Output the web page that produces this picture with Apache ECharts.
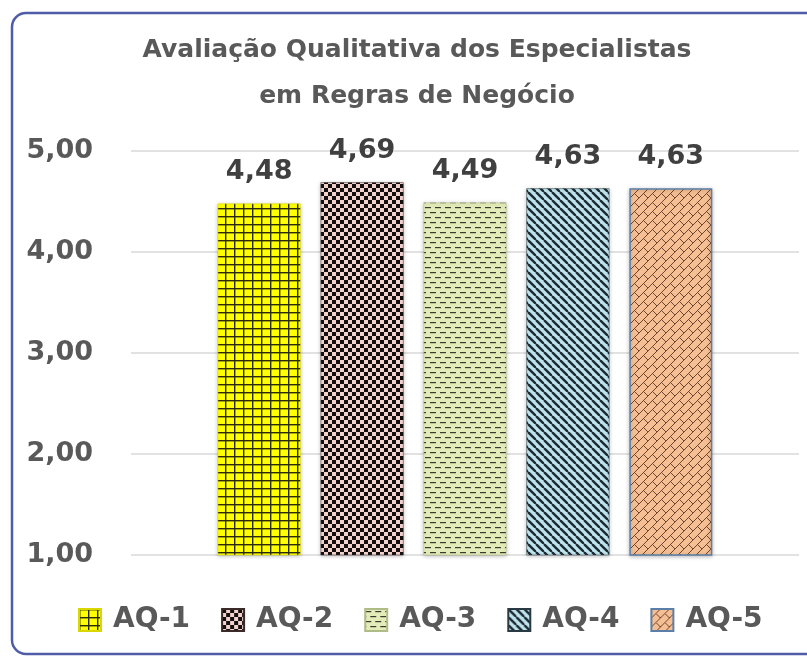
<!DOCTYPE html>
<html>
<head>
<meta charset="utf-8">
<title>Avaliação Qualitativa</title>
<script src="https://cdn.jsdelivr.net/npm/echarts@6/dist/echarts.min.js"></script>
<style>
  html, body { margin: 0; padding: 0; background: #fff; }
  #chart { width: 807px; height: 657px; }
</style>
</head>
<body>
<div id="chart"></div>
<script>
// dados
const seriesNames = ['AQ-1', 'AQ-2', 'AQ-3', 'AQ-4', 'AQ-5']
const seriesValues = [4.48, 4.69, 4.49, 4.63, 4.63]
const categories = ['Avaliação']
const yTicks = [1, 2, 3, 4, 5]

// padrões de preenchimento (estilo Excel)
function tile(w, h, draw) {
  const c = document.createElement('canvas')
  c.width = w
  c.height = h
  draw(c.getContext('2d'), w, h)
  return { image: c, repeat: 'repeat' }
}

const patterns = [
  // grade - amarelo
  tile(9, 8, (g, w, h) => {
    g.fillStyle = '#ffff00'; g.fillRect(0, 0, w, h)
    g.fillStyle = '#2a2a10'
    g.fillRect(0, 0, w, 1.4); g.fillRect(0, 0, 1.4, h)
  }),
  // xadrez - preto / rosa
  tile(8, 8, (g, w, h) => {
    g.fillStyle = '#f3d2ce'; g.fillRect(0, 0, w, h)
    g.fillStyle = '#141010'
    g.fillRect(0, 0, 4, 4); g.fillRect(4, 4, 4, 4)
  }),
  // traços horizontais - verde claro
  tile(10, 10, (g, w, h) => {
    g.fillStyle = '#e3ecb8'; g.fillRect(0, 0, w, h)
    g.fillStyle = '#3a3a30'
    g.fillRect(0, 2, 6, 1.2)
    g.fillRect(5, 7, 5, 1.2); g.fillRect(0, 7, 1, 1.2)
  }),
  // diagonais - azul claro
  tile(8, 8, (g, w, h) => {
    g.fillStyle = '#bfe3ee'; g.fillRect(0, 0, w, h)
    g.strokeStyle = '#1d2a30'; g.lineWidth = 2.4
    for (let k = -8; k <= 8; k += 8) {
      g.beginPath(); g.moveTo(k, 0); g.lineTo(k + 8, 8); g.stroke()
    }
  }),
  // tijolos diagonais - pêssego
  tile(9, 9, (g, w, h) => {
    g.fillStyle = '#f6bf93'; g.fillRect(0, 0, w, h)
    g.strokeStyle = '#6e4630'; g.lineWidth = 1
    for (let k = 0; k <= 18; k += 9) {
      g.beginPath(); g.moveTo(k - 9, 9); g.lineTo(k, 0); g.stroke()
    }
    g.beginPath(); g.moveTo(4.5, 4.5); g.lineTo(9, 9); g.stroke()
    g.beginPath(); g.moveTo(-4.5, 4.5); g.lineTo(0, 9); g.stroke()
    g.beginPath(); g.moveTo(4.5, -4.5); g.lineTo(9, 0); g.stroke()
  })
]

const borderColors = ['#d8d800', '#3a2a2a', '#b0bc88', '#2a3a44', '#5b7fa8']

const font = 'DejaVu Sans'
const fmt = v => Number(v).toFixed(2).replace('.', ',')

const chart = echarts.init(document.getElementById('chart'))

chart.setOption({
  animation: false,
  textStyle: { fontFamily: font },
  title: {
    text: 'Avaliação Qualitativa dos Especialistas\nem Regras de Negócio',
    left: 412,
    textAlign: 'center',
    top: 22,
    textStyle: {
      fontFamily: font,
      fontSize: 25,
      fontWeight: 'bold',
      color: '#595959',
      lineHeight: 46
    }
  },
  legend: {
    data: seriesNames,
    icon: 'rect',
    left: 78,
    top: 606,
    padding: 0,
    itemWidth: 22,
    itemHeight: 22,
    itemGap: 31,
    textStyle: {
      fontFamily: font,
      fontSize: 28,
      fontWeight: 'bold',
      color: '#595959',
      padding: [0, 0, 0, 7]
    }
  },
  grid: {
    left: 131,
    right: 8,
    top: 151,
    bottom: 102
  },
  xAxis: {
    type: 'category',
    data: categories,
    axisLine: { show: false },
    axisTick: { show: false },
    axisLabel: { show: false }
  },
  yAxis: {
    type: 'value',
    min: yTicks[0],
    max: yTicks[yTicks.length - 1],
    interval: 1,
    axisLine: { show: false },
    axisTick: { show: false },
    splitLine: { lineStyle: { color: '#d9d9d9', width: 1.5 } },
    axisLabel: {
      margin: 38,
      formatter: fmt,
      fontFamily: font,
      fontSize: 27,
      fontWeight: 'bold',
      color: '#595959'
    }
  },
  graphic: [{
    type: 'rect',
    shape: { x: 12, y: 13, width: 900, height: 641, r: 14 },
    style: { fill: 'none', stroke: '#4f5ca8', lineWidth: 2.5 },
    silent: true
  }],
  series: seriesNames.map((name, i) => ({
    name: name,
    type: 'bar',
    barWidth: 83,
    barGap: '24%',
    data: [seriesValues[i]],
    itemStyle: {
      color: patterns[i],
      borderColor: borderColors[i],
      borderWidth: i === 4 ? 1.5 : 0.5,
      shadowBlur: 4,
      shadowColor: 'rgba(0,0,0,0.25)',
      shadowOffsetY: 1
    },
    label: {
      show: true,
      position: 'top',
      distance: 18,
      formatter: p => fmt(p.value),
      fontFamily: font,
      fontSize: 27,
      fontWeight: 'bold',
      color: '#404040'
    }
  }))
})
</script>
</body>
</html>
